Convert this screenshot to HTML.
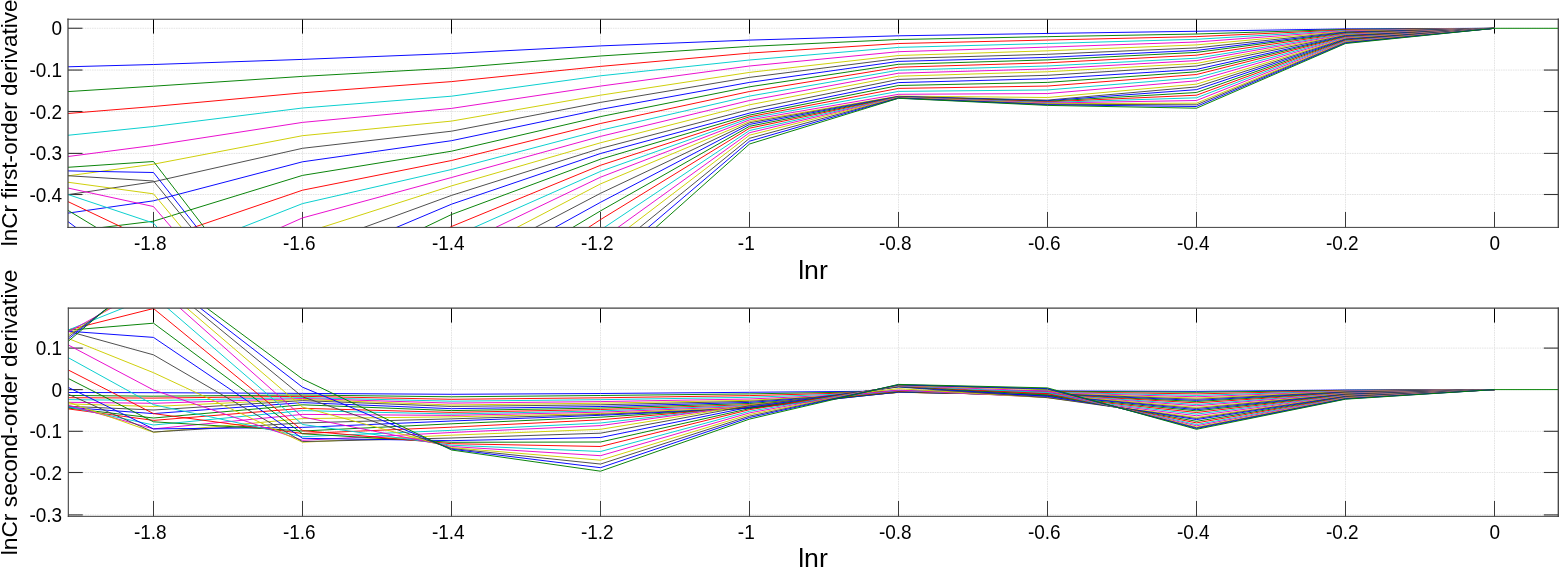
<!DOCTYPE html>
<html lang="en">
<head>
<meta charset="utf-8">
<title>lnCr derivatives</title>
<style>
html,body{margin:0;padding:0;background:#fff;}
body{width:1559px;height:568px;overflow:hidden;font-family:"Liberation Sans",Arial,sans-serif;}
svg{display:block;}
</style>
</head>
<body>
<svg width="1559" height="568" viewBox="0 0 1559 568" font-family="Liberation Sans, Arial, sans-serif">
<rect width="1559" height="568" fill="#fff"/>
<clipPath id="c1"><rect x="68.00" y="19.15" width="1490.30" height="208.25"/></clipPath>
<g stroke="#e4e4e4" stroke-width="1" stroke-dasharray="1.6 0.8" fill="none"><line x1="153.5" y1="19.1" x2="153.5" y2="227.4"/><line x1="302.5" y1="19.1" x2="302.5" y2="227.4"/><line x1="451.5" y1="19.1" x2="451.5" y2="227.4"/><line x1="600.5" y1="19.1" x2="600.5" y2="227.4"/><line x1="749.5" y1="19.1" x2="749.5" y2="227.4"/><line x1="898.5" y1="19.1" x2="898.5" y2="227.4"/><line x1="1047.5" y1="19.1" x2="1047.5" y2="227.4"/><line x1="1196.5" y1="19.1" x2="1196.5" y2="227.4"/><line x1="1345.5" y1="19.1" x2="1345.5" y2="227.4"/><line x1="1494.5" y1="19.1" x2="1494.5" y2="227.4"/><line x1="68.0" y1="28.25" x2="1558.3" y2="28.25"/><line x1="68.0" y1="70.05" x2="1558.3" y2="70.05"/><line x1="68.0" y1="111.50" x2="1558.3" y2="111.50"/><line x1="68.0" y1="153.40" x2="1558.3" y2="153.40"/><line x1="68.0" y1="194.50" x2="1558.3" y2="194.50"/></g>
<g stroke="#000" stroke-width="1.05" fill="none"><line x1="153.5" y1="19.1" x2="153.5" y2="33.6"/><line x1="153.5" y1="227.4" x2="153.5" y2="212.0" stroke="#3a3a3a"/><line x1="302.5" y1="19.1" x2="302.5" y2="33.6"/><line x1="302.5" y1="227.4" x2="302.5" y2="212.0" stroke="#3a3a3a"/><line x1="451.5" y1="19.1" x2="451.5" y2="33.6"/><line x1="451.5" y1="227.4" x2="451.5" y2="212.0" stroke="#3a3a3a"/><line x1="600.5" y1="19.1" x2="600.5" y2="33.6"/><line x1="600.5" y1="227.4" x2="600.5" y2="212.0" stroke="#3a3a3a"/><line x1="749.5" y1="19.1" x2="749.5" y2="33.6"/><line x1="749.5" y1="227.4" x2="749.5" y2="212.0" stroke="#3a3a3a"/><line x1="898.5" y1="19.1" x2="898.5" y2="33.6"/><line x1="898.5" y1="227.4" x2="898.5" y2="212.0" stroke="#3a3a3a"/><line x1="1047.5" y1="19.1" x2="1047.5" y2="33.6"/><line x1="1047.5" y1="227.4" x2="1047.5" y2="212.0" stroke="#3a3a3a"/><line x1="1196.5" y1="19.1" x2="1196.5" y2="33.6"/><line x1="1196.5" y1="227.4" x2="1196.5" y2="212.0" stroke="#3a3a3a"/><line x1="1345.5" y1="19.1" x2="1345.5" y2="33.6"/><line x1="1345.5" y1="227.4" x2="1345.5" y2="212.0" stroke="#3a3a3a"/><line x1="1494.5" y1="19.1" x2="1494.5" y2="33.6"/><line x1="1494.5" y1="227.4" x2="1494.5" y2="212.0" stroke="#3a3a3a"/></g>
<g stroke="#333" stroke-width="1.1" fill="none"><line x1="68.0" y1="28.25" x2="82.5" y2="28.25"/><line x1="68.0" y1="70.05" x2="82.5" y2="70.05"/><line x1="1558.3" y1="70.05" x2="1543.8" y2="70.05"/><line x1="68.0" y1="111.50" x2="82.5" y2="111.50"/><line x1="1558.3" y1="111.50" x2="1543.8" y2="111.50"/><line x1="68.0" y1="153.40" x2="82.5" y2="153.40"/><line x1="1558.3" y1="153.40" x2="1543.8" y2="153.40"/><line x1="68.0" y1="194.50" x2="82.5" y2="194.50"/><line x1="1558.3" y1="194.50" x2="1543.8" y2="194.50"/></g>
<g clip-path="url(#c1)"><g fill="none" stroke-width="0.96" stroke-linejoin="round"><polyline points="4.50,68.50 153.50,64.50 302.50,59.40 451.50,53.50 600.50,45.90 749.50,40.10 898.50,35.80 1047.50,33.45 1196.50,31.26 1345.50,28.90 1494.50,28.30" stroke="#0000ff"/>
<polyline points="4.50,95.60 153.50,86.20 302.50,76.40 451.50,68.10 600.50,56.00 749.50,46.40 898.50,39.50 1047.50,36.66 1196.50,34.00 1345.50,29.40 1494.50,28.30" stroke="#008000"/>
<polyline points="4.50,118.70 153.50,106.50 302.50,92.80 451.50,81.60 600.50,66.40 749.50,53.10 898.50,43.50 1047.50,40.06 1196.50,36.60 1345.50,29.91 1494.50,28.30" stroke="#ff0000"/>
<polyline points="4.50,141.80 153.50,126.50 302.50,108.00 451.50,96.20 600.50,75.80 749.50,60.00 898.50,47.40 1047.50,43.50 1196.50,39.30 1345.50,30.41 1494.50,28.30" stroke="#00cdcd"/>
<polyline points="4.50,164.80 153.50,145.40 302.50,122.40 451.50,108.40 600.50,86.10 749.50,66.00 898.50,51.70 1047.50,47.10 1196.50,42.00 1345.50,30.91 1494.50,28.30" stroke="#e805cd"/>
<polyline points="4.50,184.50 153.50,164.20 302.50,135.70 451.50,121.10 600.50,95.20 749.50,72.40 898.50,55.50 1047.50,50.80 1196.50,44.90 1345.50,31.42 1494.50,28.30" stroke="#cdcd00"/>
<polyline points="4.50,204.20 153.50,181.80 302.50,148.30 451.50,131.20 600.50,102.40 749.50,77.40 898.50,58.50 1047.50,54.30 1196.50,47.90 1345.50,31.92 1494.50,28.30" stroke="#474747"/>
<polyline points="4.50,222.30 153.50,200.80 302.50,161.80 451.50,140.70 600.50,109.40 749.50,82.40 898.50,61.40 1047.50,57.40 1196.50,50.40 1345.50,32.42 1494.50,28.30" stroke="#0000ff"/>
<polyline points="4.50,239.40 153.50,221.20 302.50,175.40 451.50,151.20 600.50,116.60 749.50,86.80 898.50,64.30 1047.50,59.90 1196.50,52.40 1345.50,32.93 1494.50,28.30" stroke="#008000"/>
<polyline points="4.50,260.00 153.50,241.10 302.50,190.20 451.50,160.50 600.50,123.50 749.50,91.50 898.50,67.20 1047.50,62.80 1196.50,55.20 1345.50,33.43 1494.50,28.30" stroke="#ff0000"/>
<polyline points="4.50,280.00 153.50,262.10 302.50,203.60 451.50,169.50 600.50,130.30 749.50,96.10 898.50,70.20 1047.50,66.00 1196.50,58.20 1345.50,33.93 1494.50,28.30" stroke="#00cdcd"/>
<polyline points="4.50,300.00 153.50,284.10 302.50,217.90 451.50,177.50 600.50,136.40 749.50,100.50 898.50,73.20 1047.50,68.90 1196.50,60.60 1345.50,34.44 1494.50,28.30" stroke="#e805cd"/>
<polyline points="4.50,320.00 153.50,306.00 302.50,233.60 451.50,185.90 600.50,142.80 749.50,104.80 898.50,76.20 1047.50,71.75 1196.50,63.45 1345.50,34.94 1494.50,28.30" stroke="#cdcd00"/>
<polyline points="4.50,330.00 153.50,330.00 302.50,249.90 451.50,195.40 600.50,148.40 749.50,109.50 898.50,79.40 1047.50,75.30 1196.50,66.00 1345.50,35.44 1494.50,28.30" stroke="#474747"/>
<polyline points="4.50,340.00 153.50,355.00 302.50,267.00 451.50,204.20 600.50,153.50 749.50,113.10 898.50,82.60 1047.50,78.70 1196.50,69.40 1345.50,35.95 1494.50,28.30" stroke="#0000ff"/>
<polyline points="4.50,340.00 153.50,380.00 302.50,285.90 451.50,214.50 600.50,159.20 749.50,115.10 898.50,85.50 1047.50,82.40 1196.50,71.80 1345.50,36.45 1494.50,28.30" stroke="#008000"/>
<polyline points="4.50,330.00 153.50,400.00 302.50,305.00 451.50,226.50 600.50,165.30 749.50,116.80 898.50,88.40 1047.50,86.05 1196.50,74.50 1345.50,36.96 1494.50,28.30" stroke="#ff0000"/>
<polyline points="4.50,320.00 153.50,400.00 302.50,320.00 451.50,237.50 600.50,171.40 749.50,118.30 898.50,91.40 1047.50,89.95 1196.50,77.75 1345.50,37.46 1494.50,28.30" stroke="#00cdcd"/>
<polyline points="4.50,310.00 153.50,380.00 302.50,335.00 451.50,248.60 600.50,177.20 749.50,119.90 898.50,94.30 1047.50,93.55 1196.50,80.80 1345.50,37.96 1494.50,28.30" stroke="#e805cd"/>
<polyline points="4.50,300.00 153.50,355.00 302.50,350.00 451.50,261.60 600.50,183.90 749.50,121.50 898.50,96.10 1047.50,97.50 1196.50,84.15 1345.50,38.47 1494.50,28.30" stroke="#cdcd00"/>
<polyline points="4.50,290.00 153.50,320.00 302.50,365.00 451.50,271.40 600.50,193.30 749.50,122.80 898.50,96.40 1047.50,100.10 1196.50,86.90 1345.50,38.97 1494.50,28.30" stroke="#474747"/>
<polyline points="4.50,174.20 153.50,285.40 302.50,380.00 451.50,284.60 600.50,202.30 749.50,124.40 898.50,96.61 1047.50,100.69 1196.50,89.65 1345.50,39.47 1494.50,28.30" stroke="#0000ff"/>
<polyline points="4.50,171.90 153.50,262.10 302.50,390.00 451.50,299.70 600.50,210.90 749.50,126.30 898.50,96.82 1047.50,101.28 1196.50,92.50 1345.50,39.98 1494.50,28.30" stroke="#008000"/>
<polyline points="4.50,171.50 153.50,242.20 302.50,395.00 451.50,317.00 600.50,219.60 749.50,128.20 898.50,97.03 1047.50,101.87 1196.50,95.20 1345.50,40.48 1494.50,28.30" stroke="#ff0000"/>
<polyline points="4.50,173.30 153.50,223.10 302.50,391.00 451.50,335.00 600.50,230.00 749.50,130.50 898.50,97.24 1047.50,102.46 1196.50,97.80 1345.50,40.98 1494.50,28.30" stroke="#00cdcd"/>
<polyline points="4.50,174.30 153.50,206.55 302.50,379.70 451.50,350.00 600.50,240.00 749.50,132.70 898.50,97.46 1047.50,103.04 1196.50,100.50 1345.50,41.49 1494.50,28.30" stroke="#e805cd"/>
<polyline points="4.50,173.60 153.50,193.85 302.50,372.80 451.50,365.00 600.50,249.10 749.50,135.20 898.50,97.67 1047.50,103.63 1196.50,103.20 1345.50,41.99 1494.50,28.30" stroke="#cdcd00"/>
<polyline points="4.50,171.80 153.50,181.00 302.50,364.20 451.50,380.00 600.50,259.30 749.50,138.30 898.50,97.88 1047.50,104.22 1196.50,104.80 1345.50,42.49 1494.50,28.30" stroke="#474747"/>
<polyline points="4.50,169.70 153.50,172.50 302.50,360.90 451.50,395.00 600.50,268.00 749.50,141.20 898.50,98.09 1047.50,104.81 1196.50,106.50 1345.50,43.00 1494.50,28.30" stroke="#0000ff"/>
<polyline points="4.50,171.60 153.50,161.50 302.50,355.00 451.50,410.00 600.50,276.80 749.50,144.00 898.50,98.30 1047.50,105.40 1196.50,108.20 1345.50,43.50 1494.50,28.30 1560.00,28.30" stroke="#008000"/></g></g>
<g fill="none" stroke="#404040" stroke-width="1" stroke-linecap="square">
<line x1="68.00" y1="19.15" x2="68.00" y2="227.40" stroke-width="1.25"/>
<line x1="68.00" y1="19.15" x2="1558.30" y2="19.15" stroke-width="1.05"/>
<line x1="1558.30" y1="19.15" x2="1558.30" y2="227.40" stroke-width="1.3"/>
<line x1="68.00" y1="227.40" x2="1558.30" y2="227.40"/>
</g>
<g font-size="20.2px" fill="#000"><text transform="translate(150.30 249.60) scale(0.940 1)" text-anchor="middle">-1.8</text><text transform="translate(299.30 249.60) scale(0.940 1)" text-anchor="middle">-1.6</text><text transform="translate(448.30 249.60) scale(0.940 1)" text-anchor="middle">-1.4</text><text transform="translate(597.30 249.60) scale(0.940 1)" text-anchor="middle">-1.2</text><text transform="translate(746.30 249.60) scale(0.940 1)" text-anchor="middle">-1</text><text transform="translate(895.30 249.60) scale(0.940 1)" text-anchor="middle">-0.8</text><text transform="translate(1044.30 249.60) scale(0.940 1)" text-anchor="middle">-0.6</text><text transform="translate(1193.30 249.60) scale(0.940 1)" text-anchor="middle">-0.4</text><text transform="translate(1342.30 249.60) scale(0.940 1)" text-anchor="middle">-0.2</text><text transform="translate(1494.90 249.60) scale(0.940 1)" text-anchor="middle">0</text><text transform="translate(62.1 35.25) scale(0.940 1)" text-anchor="end">0</text><text transform="translate(62.1 77.05) scale(0.940 1)" text-anchor="end">-0.1</text><text transform="translate(62.1 118.50) scale(0.940 1)" text-anchor="end">-0.2</text><text transform="translate(62.1 160.40) scale(0.940 1)" text-anchor="end">-0.3</text><text transform="translate(62.1 201.50) scale(0.940 1)" text-anchor="end">-0.4</text></g>
<text x="813.0" y="278.8" text-anchor="middle" font-size="26.67px">lnr</text>
<text transform="translate(17.3 122.9) rotate(-90)" text-anchor="middle" font-size="22.55px">lnCr first-order derivative</text>
<clipPath id="c2"><rect x="68.32" y="308.10" width="1489.98" height="208.25"/></clipPath>
<g stroke="#e4e4e4" stroke-width="1" stroke-dasharray="1.6 0.8" fill="none"><line x1="153.5" y1="308.1" x2="153.5" y2="516.4"/><line x1="302.5" y1="308.1" x2="302.5" y2="516.4"/><line x1="451.5" y1="308.1" x2="451.5" y2="516.4"/><line x1="600.5" y1="308.1" x2="600.5" y2="516.4"/><line x1="749.5" y1="308.1" x2="749.5" y2="516.4"/><line x1="898.5" y1="308.1" x2="898.5" y2="516.4"/><line x1="1047.5" y1="308.1" x2="1047.5" y2="516.4"/><line x1="1196.5" y1="308.1" x2="1196.5" y2="516.4"/><line x1="1345.5" y1="308.1" x2="1345.5" y2="516.4"/><line x1="1494.5" y1="308.1" x2="1494.5" y2="516.4"/><line x1="68.3" y1="348.10" x2="1558.3" y2="348.10"/><line x1="68.3" y1="389.60" x2="1558.3" y2="389.60"/><line x1="68.3" y1="431.30" x2="1558.3" y2="431.30"/><line x1="68.3" y1="472.50" x2="1558.3" y2="472.50"/><line x1="68.3" y1="514.90" x2="1558.3" y2="514.90"/></g>
<g stroke="#000" stroke-width="1.05" fill="none"><line x1="153.5" y1="308.1" x2="153.5" y2="322.6"/><line x1="153.5" y1="516.4" x2="153.5" y2="501.0" stroke="#3a3a3a"/><line x1="302.5" y1="308.1" x2="302.5" y2="322.6"/><line x1="302.5" y1="516.4" x2="302.5" y2="501.0" stroke="#3a3a3a"/><line x1="451.5" y1="308.1" x2="451.5" y2="322.6"/><line x1="451.5" y1="516.4" x2="451.5" y2="501.0" stroke="#3a3a3a"/><line x1="600.5" y1="308.1" x2="600.5" y2="322.6"/><line x1="600.5" y1="516.4" x2="600.5" y2="501.0" stroke="#3a3a3a"/><line x1="749.5" y1="308.1" x2="749.5" y2="322.6"/><line x1="749.5" y1="516.4" x2="749.5" y2="501.0" stroke="#3a3a3a"/><line x1="898.5" y1="308.1" x2="898.5" y2="322.6"/><line x1="898.5" y1="516.4" x2="898.5" y2="501.0" stroke="#3a3a3a"/><line x1="1047.5" y1="308.1" x2="1047.5" y2="322.6"/><line x1="1047.5" y1="516.4" x2="1047.5" y2="501.0" stroke="#3a3a3a"/><line x1="1196.5" y1="308.1" x2="1196.5" y2="322.6"/><line x1="1196.5" y1="516.4" x2="1196.5" y2="501.0" stroke="#3a3a3a"/><line x1="1345.5" y1="308.1" x2="1345.5" y2="322.6"/><line x1="1345.5" y1="516.4" x2="1345.5" y2="501.0" stroke="#3a3a3a"/><line x1="1494.5" y1="308.1" x2="1494.5" y2="322.6"/><line x1="1494.5" y1="516.4" x2="1494.5" y2="501.0" stroke="#3a3a3a"/></g>
<g stroke="#333" stroke-width="1.1" fill="none"><line x1="68.3" y1="348.10" x2="82.8" y2="348.10"/><line x1="1558.3" y1="348.10" x2="1543.8" y2="348.10"/><line x1="68.3" y1="389.60" x2="82.8" y2="389.60"/><line x1="68.3" y1="431.30" x2="82.8" y2="431.30"/><line x1="1558.3" y1="431.30" x2="1543.8" y2="431.30"/><line x1="68.3" y1="472.50" x2="82.8" y2="472.50"/><line x1="1558.3" y1="472.50" x2="1543.8" y2="472.50"/><line x1="68.3" y1="514.90" x2="82.8" y2="514.90"/><line x1="1558.3" y1="514.90" x2="1543.8" y2="514.90"/></g>
<g clip-path="url(#c2)"><g fill="none" stroke-width="0.96" stroke-linejoin="round"><polyline points="4.50,392.35 153.50,392.70 302.50,393.40 451.50,394.30 600.50,393.50 749.50,392.30 898.50,391.00 1047.50,390.90 1196.50,391.40 1345.50,390.00 1494.50,389.60" stroke="#0000ff"/>
<polyline points="4.50,394.89 153.50,396.20 302.50,395.00 451.50,396.80 600.50,395.50 749.50,393.90 898.50,391.30 1047.50,391.20 1196.50,392.30 1345.50,390.32 1494.50,389.60" stroke="#008000"/>
<polyline points="4.50,397.40 153.50,398.10 302.50,396.30 451.50,399.30 600.50,397.80 749.50,395.60 898.50,391.70 1047.50,391.70 1196.50,393.90 1345.50,390.63 1494.50,389.60" stroke="#ff0000"/>
<polyline points="4.50,398.85 153.50,400.60 302.50,397.60 451.50,401.20 600.50,399.70 749.50,397.30 898.50,392.00 1047.50,392.20 1196.50,395.40 1345.50,390.95 1494.50,389.60" stroke="#00cdcd"/>
<polyline points="4.50,401.55 153.50,403.30 302.50,398.50 451.50,403.10 600.50,401.60 749.50,399.00 898.50,392.40 1047.50,392.70 1196.50,396.80 1345.50,391.27 1494.50,389.60" stroke="#e805cd"/>
<polyline points="4.50,401.95 153.50,406.50 302.50,399.40 451.50,405.00 600.50,403.20 749.50,400.30 898.50,392.50 1047.50,393.20 1196.50,398.10 1345.50,391.59 1494.50,389.60" stroke="#cdcd00"/>
<polyline points="4.50,403.53 153.50,410.00 302.50,400.60 451.50,406.45 600.50,404.80 749.50,401.30 898.50,392.20 1047.50,393.50 1196.50,399.30 1345.50,391.90 1494.50,389.60" stroke="#474747"/>
<polyline points="4.50,402.76 153.50,413.60 302.50,402.60 451.50,408.70 600.50,406.50 749.50,402.40 898.50,392.00 1047.50,393.90 1196.50,400.40 1345.50,392.22 1494.50,389.60" stroke="#0000ff"/>
<polyline points="4.50,400.69 153.50,418.00 302.50,404.80 451.50,410.60 600.50,408.05 749.50,403.50 898.50,392.30 1047.50,394.20 1196.50,401.50 1345.50,392.54 1494.50,389.60" stroke="#008000"/>
<polyline points="4.50,400.29 153.50,420.40 302.50,408.30 451.50,412.40 600.50,409.50 749.50,404.70 898.50,392.30 1047.50,394.20 1196.50,402.90 1345.50,392.86 1494.50,389.60" stroke="#ff0000"/>
<polyline points="4.50,393.17 153.50,425.00 302.50,410.60 451.50,414.00 600.50,410.90 749.50,405.40 898.50,392.20 1047.50,394.40 1196.50,404.50 1345.50,393.17 1494.50,389.60" stroke="#00cdcd"/>
<polyline points="4.50,387.45 153.50,428.90 302.50,414.40 451.50,415.40 600.50,412.20 749.50,406.30 898.50,392.20 1047.50,394.70 1196.50,405.80 1345.50,393.49 1494.50,389.60" stroke="#e805cd"/>
<polyline points="4.50,379.66 153.50,432.30 302.50,418.60 451.50,416.85 600.50,413.50 749.50,407.00 898.50,392.30 1047.50,394.70 1196.50,407.40 1345.50,393.81 1494.50,389.60" stroke="#cdcd00"/>
<polyline points="4.50,366.07 153.50,432.00 302.50,422.90 451.50,418.85 600.50,414.40 749.50,408.00 898.50,392.10 1047.50,395.30 1196.50,408.50 1345.50,394.12 1494.50,389.60" stroke="#474747"/>
<polyline points="4.50,356.32 153.50,428.90 302.50,427.40 451.50,421.00 600.50,415.30 749.50,408.20 898.50,392.00 1047.50,395.30 1196.50,409.70 1345.50,394.44 1494.50,389.60" stroke="#0000ff"/>
<polyline points="4.50,346.08 153.50,421.80 302.50,431.00 451.50,423.80 600.50,417.20 749.50,407.70 898.50,391.50 1047.50,396.10 1196.50,410.90 1345.50,394.76 1494.50,389.60" stroke="#008000"/>
<polyline points="4.50,337.35 153.50,413.60 302.50,433.50 451.50,427.20 600.50,419.80 749.50,406.90 898.50,391.00 1047.50,396.60 1196.50,412.50 1345.50,395.08 1494.50,389.60" stroke="#ff0000"/>
<polyline points="4.50,322.51 153.50,404.70 302.50,436.70 451.50,430.35 600.50,423.00 749.50,406.00 898.50,390.50 1047.50,397.00 1196.50,414.10 1345.50,395.39 1494.50,389.60" stroke="#00cdcd"/>
<polyline points="4.50,311.30 153.50,390.00 302.50,440.30 451.50,432.50 600.50,425.60 749.50,405.20 898.50,390.10 1047.50,397.40 1196.50,415.75 1345.50,395.71 1494.50,389.60" stroke="#e805cd"/>
<polyline points="4.50,312.89 153.50,372.70 302.50,442.20 451.50,435.20 600.50,429.30 749.50,405.10 898.50,388.70 1047.50,397.70 1196.50,417.40 1345.50,396.03 1494.50,389.60" stroke="#cdcd00"/>
<polyline points="4.50,313.67 153.50,354.85 302.50,441.60 451.50,438.00 600.50,433.20 749.50,405.70 898.50,387.00 1047.50,397.65 1196.50,418.50 1345.50,396.34 1494.50,389.60" stroke="#474747"/>
<polyline points="4.50,326.56 153.50,337.40 302.50,438.30 451.50,440.65 600.50,437.50 749.50,407.20 898.50,386.71 1047.50,396.30 1196.50,419.60 1345.50,396.66 1494.50,389.60" stroke="#0000ff"/>
<polyline points="4.50,335.44 153.50,323.20 302.50,433.80 451.50,442.30 600.50,442.00 749.50,408.60 898.50,386.42 1047.50,395.00 1196.50,421.30 1345.50,396.98 1494.50,389.60" stroke="#008000"/>
<polyline points="4.50,345.92 153.50,308.50 302.50,430.60 451.50,443.70 600.50,446.50 749.50,409.70 898.50,386.13 1047.50,393.70 1196.50,422.90 1345.50,397.30 1494.50,389.60" stroke="#ff0000"/>
<polyline points="4.50,355.46 153.50,296.00 302.50,424.50 451.50,445.20 600.50,451.50 749.50,411.30 898.50,385.84 1047.50,392.50 1196.50,424.50 1345.50,397.61 1494.50,389.60" stroke="#00cdcd"/>
<polyline points="4.50,367.57 153.50,284.50 302.50,417.00 451.50,446.50 600.50,455.70 749.50,412.90 898.50,385.56 1047.50,391.20 1196.50,425.80 1345.50,397.93 1494.50,389.60" stroke="#e805cd"/>
<polyline points="4.50,376.48 153.50,279.60 302.50,407.10 451.50,447.60 600.50,460.20 749.50,414.50 898.50,385.27 1047.50,389.80 1196.50,427.10 1345.50,398.25 1494.50,389.60" stroke="#cdcd00"/>
<polyline points="4.50,383.80 153.50,274.50 302.50,396.80 451.50,448.50 600.50,464.05 749.50,416.10 898.50,384.98 1047.50,389.20 1196.50,427.80 1345.50,398.57 1494.50,389.60" stroke="#474747"/>
<polyline points="4.50,389.25 153.50,271.90 302.50,387.20 451.50,449.20 600.50,467.70 749.50,417.50 898.50,384.69 1047.50,388.60 1196.50,428.50 1345.50,398.88 1494.50,389.60" stroke="#0000ff"/>
<polyline points="4.50,395.81 153.50,268.50 302.50,379.00 451.50,450.00 600.50,471.20 749.50,419.10 898.50,384.40 1047.50,387.90 1196.50,429.30 1345.50,399.20 1494.50,389.60 1560.00,389.60" stroke="#008000"/></g></g>
<g fill="none" stroke="#404040" stroke-width="1" stroke-linecap="square">
<line x1="68.32" y1="308.10" x2="68.32" y2="516.35" stroke-width="1.10"/>
<line x1="68.32" y1="308.10" x2="1558.30" y2="308.10" stroke-width="1.05"/>
<line x1="1558.30" y1="308.10" x2="1558.30" y2="516.35" stroke-width="1.3"/>
<line x1="68.32" y1="516.35" x2="1558.30" y2="516.35"/>
</g>
<g font-size="20.2px" fill="#000"><text transform="translate(150.30 538.80) scale(0.940 1)" text-anchor="middle">-1.8</text><text transform="translate(299.30 538.80) scale(0.940 1)" text-anchor="middle">-1.6</text><text transform="translate(448.30 538.80) scale(0.940 1)" text-anchor="middle">-1.4</text><text transform="translate(597.30 538.80) scale(0.940 1)" text-anchor="middle">-1.2</text><text transform="translate(746.30 538.80) scale(0.940 1)" text-anchor="middle">-1</text><text transform="translate(895.30 538.80) scale(0.940 1)" text-anchor="middle">-0.8</text><text transform="translate(1044.30 538.80) scale(0.940 1)" text-anchor="middle">-0.6</text><text transform="translate(1193.30 538.80) scale(0.940 1)" text-anchor="middle">-0.4</text><text transform="translate(1342.30 538.80) scale(0.940 1)" text-anchor="middle">-0.2</text><text transform="translate(1494.90 538.80) scale(0.940 1)" text-anchor="middle">0</text><text transform="translate(62.1 355.10) scale(0.940 1)" text-anchor="end">0.1</text><text transform="translate(62.1 396.60) scale(0.940 1)" text-anchor="end">0</text><text transform="translate(62.1 438.30) scale(0.940 1)" text-anchor="end">-0.1</text><text transform="translate(62.1 479.50) scale(0.940 1)" text-anchor="end">-0.2</text><text transform="translate(62.1 521.90) scale(0.940 1)" text-anchor="end">-0.3</text></g>
<text x="813.0" y="567.0" text-anchor="middle" font-size="26.67px">lnr</text>
<text transform="translate(17.3 412.4) rotate(-90)" text-anchor="middle" font-size="22.75px">lnCr second-order derivative</text>
</svg>
</body>
</html>
